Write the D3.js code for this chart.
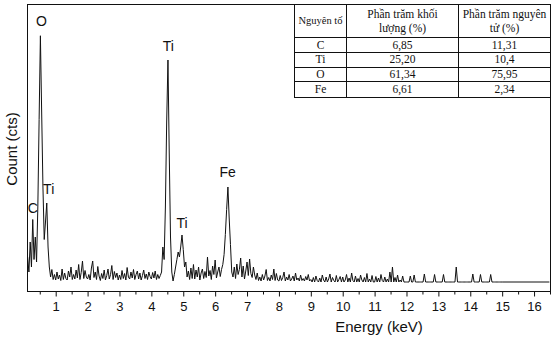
<!DOCTYPE html>
<html><head><meta charset="utf-8">
<script src="https://cdn.jsdelivr.net/npm/d3@7"></script>
<style>html,body{margin:0;padding:0;background:#fff;}svg{display:block;}</style>
</head><body>
<svg id="chart" width="555" height="337"></svg>
<script>
// ---- data ----
// spectrum: each segment starts at segStartKeV and has one count per 0.04 keV channel
const channelStepKeV = 0.04;
const segStartKeV = [0.12, 1.00, 2.00, 3.00, 4.00, 5.00, 6.00, 7.00, 8.00, 9.00, 10.00, 11.00, 12.00, 13.00, 14.00, 15.00, 16.48];
const segCounts = [
  [100,40,160,60,250,90,180,80,300,650,985,680,380,170,240,316,140,60,20,50,10,30],
  [8,40,12,28,6,52,10,36,14,8,44,20,60,10,30,12,48,16,70,10,38,84,14,46,20],
  [12,30,8,56,84,18,40,10,62,24,6,34,14,48,8,26,52,12,30,66,10,42,18,36,8],
  [28,10,46,14,34,8,58,20,12,40,16,50,10,30,44,12,36,8,26,48,14,32,10,40,22],
  [12,38,16,44,10,30,14,26,40,140,90,300,640,888,520,180,40,4,30,60,90,120,100,140,188],
  [130,60,80,20,44,10,56,14,70,12,48,20,60,8,36,52,14,42,18,100,24,46,10,64,30],
  [88,16,40,60,22,50,70,110,190,290,380,256,150,40,20,60,14,72,30,50,96,20,64,12,44],
  [80,26,92,34,18,60,28,10,36,6,20,4,30,8,24,50,6,18,4,28,10,52,6,34,8],
  [4,26,6,18,40,4,20,8,30,4,12,24,4,36,8,16,4,28,6,14,4,22,8,30,4],
  [10,0,18,0,24,6,0,16,0,28,8,0,20,0,12,32,0,18,6,0,26,0,10,22,0],
  [20,0,8,30,0,16,0,36,6,0,24,0,14,0,28,8,0,18,0,34,0,12,0,26,0],
  [0,22,0,16,0,30,6,0,20,0,12,0,40,0,60,0,18,0,28,0,8,0,24,0,0],
  [0,0,0,24,0,0,28,0,0,0,0,0,0,0,32,0,0,0,0,0,0,0,30,0,0],
  [0,0,0,0,30,0,0,0,0,0,0,0,0,0,60,0,0,0,0,0,0,0,0,0,0],
  [0,0,32,0,0,0,0,0,30,0,0,0,0,0,0,0,30,0,0,0,0,0,0,0,0],
  [0],
  [0]
];
const peakLabels = ["C", "O", "Ti", "Ti", "Ti", "Fe"];
const peakLabelKeV = [0.28, 0.55, 0.78, 4.53, 4.96, 6.39];
const peakLabelCts = [276, 1025, 352, 925, 215, 420];
const majorTicks = [1,2,3,4,5,6,7,8,9,10,11,12,13,14,15,16];
const minorTicks = [0.5,1.5,2.5,3.5,4.5,5.5,6.5,7.5,8.5,9.5,10.5,11.5,12.5,13.5,14.5,15.5,16.5];
const tableHeader1 = ["Nguyên tố", "Phần trăm khối", "Phần trăm nguyên"];
const tableHeader2 = ["", "lượng (%)", "tử (%)"];
const tableElements = ["C", "Ti", "O", "Fe"];
const tableMass = ["6,85", "25,20", "61,34", "6,61"];
const tableAtomic = ["11,31", "10,4", "75,95", "2,34"];

// ---- build ----
const points = [];
segStartKeV.forEach((s, k) => segCounts[k].forEach((c, i) => points.push([s + i * channelStepKeV, c])));

const svg = d3.select("#chart");
const L = 27, R = 550, T = 4, B = 291;
const x = d3.scaleLinear().domain([0.1, 16.5]).range([L, R]);
const y = d3.scaleLinear().domain([-36, 1112]).range([B, T]);
const sans = "Liberation Sans, Arial, sans-serif";
const serif = "Liberation Serif, Times New Roman, serif";

svg.append("path").datum(points)
  .attr("d", d3.line().x(d => x(d[0])).y(d => y(d[1])))
  .attr("fill", "none").attr("stroke", "#111").attr("stroke-width", 1);

// axes
const gx = svg.append("g").attr("transform", `translate(0,${B + 0.5})`)
  .call(d3.axisBottom(x).tickValues(majorTicks).tickSize(5).tickSizeOuter(0).tickFormat(d3.format("d")));
gx.select(".domain").remove();
gx.selectAll("text").attr("font-family", sans).attr("font-size", 13).attr("fill", "#111").attr("dy", "0.85em");
gx.selectAll("line").attr("stroke", "#111");
const gm = svg.append("g").attr("transform", `translate(0,${B + 0.5})`)
  .call(d3.axisBottom(x).tickValues(minorTicks).tickSize(3).tickSizeOuter(0).tickFormat(""));
gm.select(".domain").remove();
gm.selectAll("line").attr("stroke", "#111");

// frame
svg.append("rect").attr("x", L + 0.5).attr("y", T + 0.5).attr("width", R - L).attr("height", B - T)
  .attr("fill", "none").attr("stroke", "#111").attr("stroke-width", 1);

// titles
svg.append("text").attr("x", 379).attr("y", 332).attr("text-anchor", "middle")
  .attr("font-family", sans).attr("font-size", 15).attr("fill", "#111").text("Energy (keV)");
svg.append("text").attr("transform", "translate(17,149) rotate(-90)").attr("text-anchor", "middle")
  .attr("font-family", sans).attr("font-size", 15).attr("fill", "#111").text("Count (cts)");

// peak labels
svg.selectAll(".pl").data(peakLabels).enter().append("text")
  .attr("x", (d, i) => x(peakLabelKeV[i])).attr("y", (d, i) => y(peakLabelCts[i]))
  .attr("text-anchor", "middle").attr("font-family", sans).attr("font-size", 14).attr("fill", "#111")
  .text(d => d);

// table
const colX = [294, 346, 458, 550];
const rowY = [4, 37, 52, 66.5, 81, 97];
const tg = svg.append("g");
tg.append("rect").attr("x", colX[0] + 0.5).attr("y", rowY[0] + 0.5)
  .attr("width", colX[3] - colX[0]).attr("height", rowY[5] - rowY[0]).attr("fill", "#fff").attr("stroke", "#111");
rowY.slice(1, 5).forEach(v => tg.append("line").attr("x1", colX[0]).attr("x2", colX[3])
  .attr("y1", Math.round(v) + 0.5).attr("y2", Math.round(v) + 0.5).attr("stroke", "#111"));
colX.slice(1, 3).forEach(v => tg.append("line").attr("x1", v + 0.5).attr("x2", v + 0.5)
  .attr("y1", rowY[0]).attr("y2", rowY[5]).attr("stroke", "#111"));
const cx = [0, 1, 2].map(i => (colX[i] + colX[i + 1]) / 2 + 0.5);
const tt = (tx, ty, s, fs) => tg.append("text").attr("x", tx).attr("y", ty).attr("text-anchor", "middle")
  .attr("font-family", serif).attr("font-size", fs || 11.5).attr("fill", "#111").text(s);
tt(cx[0], 24, tableHeader1[0], 10.5);
tt(cx[1], 18, tableHeader1[1]); tt(cx[1], 32, tableHeader2[1]);
tt(cx[2], 18, tableHeader1[2]); tt(cx[2], 32, tableHeader2[2]);
tableElements.forEach((e, i) => {
  const yy = (rowY[i + 1] + rowY[i + 2]) / 2 + 4;
  tt(cx[0], yy, e); tt(cx[1], yy, tableMass[i]); tt(cx[2], yy, tableAtomic[i]);
});
</script>
</body></html>
